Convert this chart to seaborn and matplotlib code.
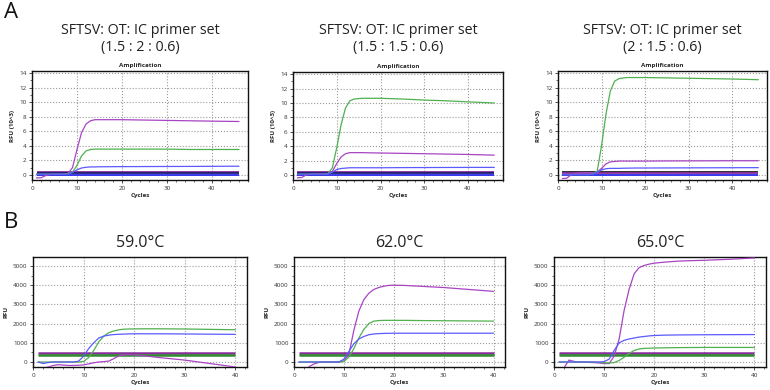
"""
Amplification curves: (A) primer set ratios, (B) annealing temperatures.
Saves out.png (770x390).
"""
import numpy as np
import pandas as pd
import matplotlib
matplotlib.use("Agg")
import matplotlib.pyplot as plt
import seaborn as sns
from matplotlib.ticker import MultipleLocator, AutoMinorLocator

# ---- data ----
cycles_a = list(range(1, 21)) + [25, 30, 35, 40, 46]
cycles_b = list(range(1, 21)) + [22, 25, 30, 35, 40]

titles_a = ['SFTSV: OT: IC primer set\n(1.5 : 2 : 0.6)',
            'SFTSV: OT: IC primer set\n(1.5 : 1.5 : 0.6)',
            'SFTSV: OT: IC primer set\n(2 : 1.5 : 0.6)']
titles_b = ['59.0°C', '62.0°C', '65.0°C']

# row A, RFU (10^3)
mag_a1 = [-0.4, -0.4, -0.1, 0.05, 0.1, 0.1, 0.1, 0.2, 1.0, 3.5, 5.8, 7.0, 7.45, 7.6,
          7.6, 7.6, 7.6, 7.6, 7.6, 7.6, 7.55, 7.5, 7.45, 7.4, 7.35]
grn_a1 = [0.1, 0.1, 0.1, 0.1, 0.1, 0.1, 0.1, 0.15, 0.4, 1.3, 2.6, 3.3, 3.5, 3.55,
          3.55, 3.55, 3.55, 3.55, 3.55, 3.55, 3.55, 3.55, 3.5, 3.5, 3.5]
blu_a1 = [0.1, 0.1, 0.1, 0.1, 0.1, 0.1, 0.1, 0.1, 0.35, 0.7, 0.95, 1.05, 1.1, 1.1,
          1.12, 1.12, 1.13, 1.13, 1.14, 1.14, 1.15, 1.16, 1.17, 1.18, 1.2]

mag_a2 = [-0.4, -0.35, 0.0, 0.1, 0.15, 0.15, 0.15, 0.15, 0.5, 1.6, 2.5, 2.95, 3.1, 3.1,
          3.1, 3.1, 3.08, 3.07, 3.06, 3.05, 3.0, 2.95, 2.9, 2.85, 2.75]
grn_a2 = [0.1, 0.1, 0.1, 0.1, 0.1, 0.1, 0.1, 0.2, 1.0, 3.8, 7.0, 9.3, 10.3, 10.55,
          10.6, 10.65, 10.65, 10.65, 10.65, 10.65, 10.55, 10.4, 10.3, 10.15, 10.0]
blu_a2 = [0.1, 0.1, 0.1, 0.1, 0.1, 0.1, 0.1, 0.15, 0.4, 0.75, 0.9, 0.95, 1.0, 1.0,
          1.0, 1.0, 1.0, 1.0, 1.0, 1.0, 1.02, 1.03, 1.04, 1.05, 1.05]

mag_a3 = [-0.5, -0.45, 0.0, 0.2, 0.3, 0.3, 0.3, 0.3, 0.4, 0.9, 1.5, 1.8, 1.85, 1.9,
          1.9, 1.9, 1.9, 1.9, 1.9, 1.9, 1.92, 1.93, 1.94, 1.95, 1.95]
grn_a3 = [0.05, 0.05, 0.05, 0.05, 0.05, 0.05, 0.05, 0.1, 0.5, 4.0, 8.3, 11.5, 12.9, 13.25,
          13.35, 13.4, 13.4, 13.4, 13.4, 13.4, 13.35, 13.3, 13.25, 13.2, 13.1]
blu_a3 = [0.05, 0.05, 0.05, 0.05, 0.05, 0.05, 0.05, 0.1, 0.35, 0.7, 0.85, 0.9, 0.9, 0.9,
          0.92, 0.93, 0.94, 0.95, 0.95, 0.95, 0.96, 0.97, 0.98, 0.99, 1.0]

# thresholds row A: (value, colour key)
thr_a = [[(0.45, 'purple'), (0.3, 'navy'), (0.02, 'blue')],
         [(0.45, 'purple'), (0.3, 'navy'), (0.02, 'blue')],
         [(0.45, 'black'), (0.3, 'purple'), (0.02, 'blue')]]

# row B, RFU
mag_b1 = [-400, -330, -260, -180, -140, -160, -180, -180, -170, -150, -100, -40, 0, 20,
          50, 180, 330, 370, 380, 370, 320, 230, 100, -80, -260]
grn_b1 = [0, 0, 0, 0, 0, 0, 0, 0, 0, 30, 230, 600, 1050, 1350,
          1530, 1620, 1680, 1710, 1720, 1725, 1730, 1730, 1720, 1700, 1680]
blu_b1 = [0, -80, -30, 0, 0, 0, 0, 0, 40, 300, 700, 1000, 1250, 1350,
          1400, 1430, 1445, 1455, 1465, 1470, 1470, 1470, 1460, 1450, 1440]

mag_b2 = [-700, -450, -250, -100, -20, 0, 0, 0, 0, 50, 400, 1650, 2650, 3250,
          3580, 3780, 3880, 3950, 3990, 4000, 3990, 3950, 3880, 3780, 3680]
grn_b2 = [0, 0, 0, 0, 0, 0, 0, 0, 0, 30, 250, 700, 1250, 1700,
          2000, 2130, 2160, 2170, 2170, 2170, 2170, 2160, 2150, 2140, 2130]
blu_b2 = [0, 0, 0, 0, 0, 0, 0, 0, 0, 150, 550, 950, 1200, 1330,
          1420, 1460, 1480, 1490, 1495, 1500, 1500, 1500, 1500, 1500, 1500]

mag_b3 = [-700, -300, 100, 30, 0, 0, -20, -30, -50, -80, -80, 300, 1200, 2700,
          3800, 4600, 4920, 5030, 5100, 5150, 5200, 5260, 5300, 5350, 5420]
grn_b3 = [0, 0, 0, 0, 0, 0, 0, 0, -20, -40, -50, -30, 80, 250,
          450, 600, 680, 710, 720, 730, 740, 750, 760, 760, 760]
blu_b3 = [0, 0, 0, 0, 0, 0, 0, 0, 0, 20, 150, 600, 1000, 1130,
          1200, 1250, 1300, 1330, 1360, 1380, 1400, 1410, 1420, 1425, 1430]

thr_b = [(490, 'purple'), (360, 'green')]

curves_a = [(mag_a1, grn_a1, blu_a1), (mag_a2, grn_a2, blu_a2), (mag_a3, grn_a3, blu_a3)]
curves_b = [(mag_b1, grn_b1, blu_b1), (mag_b2, grn_b2, blu_b2), (mag_b3, grn_b3, blu_b3)]

# ---- styling ----
W, H = 770, 390
palette = {'mag': '#a844c4', 'grn': '#4fb04f', 'blu': '#5a5aff'}
thr_colors = {'purple': '#8a2d9c', 'navy': '#1c1c70', 'blue': '#2a2af0',
              'black': '#202020', 'green': '#2e8b2e'}

sns.set_style('white')
plt.rcParams['font.family'] = ['Open Sans', 'DejaVu Sans']

# axes boxes in pixels: left, top, right, bottom
boxes_a = [(32, 71, 248, 180), (293, 72, 503, 180), (558, 71, 767, 180)]
boxes_b = [(33, 257, 247, 367), (294, 257, 505, 367), (554, 257, 766, 367)]


def to_rect(box):
    l, t, r, b = box
    return [l / W, 1 - b / H, (r - l) / W, (b - t) / H]


def long_frame(cycles, curves):
    rows = []
    for key, vals in zip(['mag', 'grn', 'blu'], curves):
        rows.append(pd.DataFrame({'cycle': cycles, 'rfu': vals, 'well': key}))
    return pd.concat(rows, ignore_index=True)


def style_axes(ax, xlim, ylim, ymajor, ylabel, tick_fs=4.5):
    ax.set_xlim(*xlim)
    ax.set_ylim(*ylim)
    ax.xaxis.set_major_locator(MultipleLocator(10))
    ax.xaxis.set_minor_locator(MultipleLocator(2))
    ax.yaxis.set_major_locator(MultipleLocator(ymajor))
    ax.yaxis.set_minor_locator(AutoMinorLocator(2))
    ax.grid(True, which='major', color='#9a9a9a', linestyle=':', linewidth=0.8)
    ax.tick_params(which='both', direction='out', labelsize=tick_fs, colors='#333333',
                   left=True, bottom=True, pad=1.5)
    ax.tick_params(which='major', length=2.5, width=0.6)
    ax.tick_params(which='minor', length=1.5, width=0.5)
    for s in ax.spines.values():
        s.set_color('#111111')
        s.set_linewidth(1.0)
    ax.set_xlabel('Cycles', fontsize=4.5, fontweight='bold', labelpad=2)
    ax.set_ylabel(ylabel, fontsize=4.5, fontweight='bold', labelpad=3)


def draw_panel(ax, cycles, curves, thresholds, thr_lw):
    df = long_frame(cycles, curves)
    for val, ckey in thresholds:
        ax.hlines(val, cycles[0], cycles[-1], color=thr_colors[ckey], lw=thr_lw, zorder=2)
    sns.lineplot(data=df, x='cycle', y='rfu', hue='well', palette=palette,
                 lw=0.9, legend=False, ax=ax, zorder=3)


fig = plt.figure(figsize=(W / 100, H / 100), dpi=100)

for i in range(3):
    ax = fig.add_axes(to_rect(boxes_a[i]))
    draw_panel(ax, cycles_a, curves_a[i], thr_a[i], 1.3)
    style_axes(ax, (0, 48), (-0.7, 14.3), 2, 'RFU (10^3)')
    ax.set_title('Amplification', fontsize=4.5, fontweight='bold', pad=3)
    l, t, r, b = boxes_a[i]
    fig.text((l + r) / 2 / W, 1 - 39 / H, titles_a[i], ha='center', va='center',
             fontsize=10.3, color='#222222', linespacing=1.15)

for i in range(3):
    ax = fig.add_axes(to_rect(boxes_b[i]))
    draw_panel(ax, cycles_b, curves_b[i], thr_b, 1.8)
    style_axes(ax, (0, 42.3), (-260, 5470), 1000, 'RFU')
    l, t, r, b = boxes_b[i]
    fig.text((l + r) / 2 / W, 1 - 243 / H, titles_b[i], ha='center', va='center',
             fontsize=11.5, color='#222222')

fig.text(4 / W, 1 - 12 / H, 'A', fontsize=16, va='center', ha='left', color='#111111')
fig.text(4 / W, 1 - 222 / H, 'B', fontsize=16, va='center', ha='left', color='#111111')

fig.savefig('out.png', dpi=100)
